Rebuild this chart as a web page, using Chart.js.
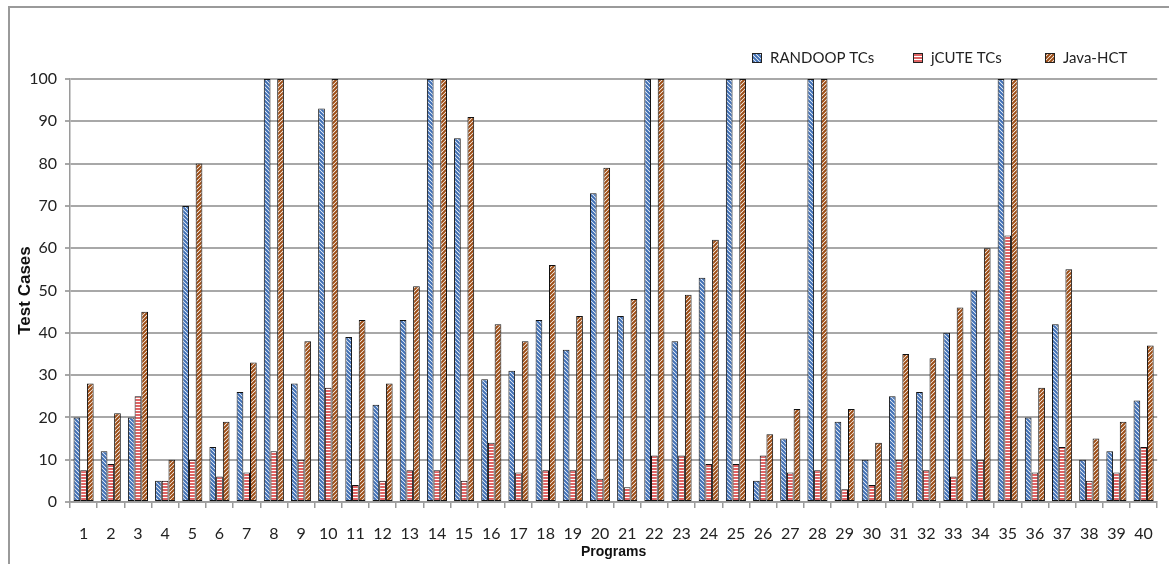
<!DOCTYPE html>
<html>
<head>
<meta charset="utf-8">
<script src="https://cdn.jsdelivr.net/npm/chart.js@4.4.1/dist/chart.umd.min.js"></script>
<style>
  html, body { margin: 0; padding: 0; background: #fff; }
  #wrap { width: 1169px; height: 564px; position: relative; }
</style>
</head>
<body>
<div id="wrap"><canvas id="tcChart"></canvas></div>
<script>
// ===== DATA =====
const programs = ['1','2','3','4','5','6','7','8','9','10',
  '11','12','13','14','15','16','17','18','19','20',
  '21','22','23','24','25','26','27','28','29','30',
  '31','32','33','34','35','36','37','38','39','40'];

const randoopTCs = [20, 12, 20, 5, 70, 13, 26, 100, 28, 93,
  39, 23, 43, 100, 86, 29, 31, 43, 36, 73,
  44, 100, 38, 53, 100, 5, 15, 100, 19, 10,
  25, 26, 40, 50, 100, 20, 42, 10, 12, 24];

const jcuteTCs = [7.5, 9, 25, 5, 10, 6, 7, 12, 10, 27,
  4, 5, 7.5, 7.5, 5, 14, 7, 7.5, 7.5, 5.5,
  3.5, 11, 11, 9, 9, 11, 7, 7.5, 3, 4,
  10, 7.5, 6, 10, 63, 7, 13, 5, 7, 13];

const javaHCT = [28, 21, 45, 10, 80, 19, 33, 100, 38, 100,
  43, 28, 51, 100, 91, 42, 38, 56, 44, 79,
  48, 100, 49, 62, 100, 16, 22, 100, 22, 14,
  35, 34, 46, 60, 100, 27, 55, 15, 19, 37];

const seriesNames = ['RANDOOP TCs', 'jCUTE TCs', 'Java-HCT'];
const yTicks = [0, 10, 20, 30, 40, 50, 60, 70, 80, 90, 100];

// ===== FILL PATTERNS =====
function stripePattern(kind, color) {
  const c = document.createElement('canvas');
  const size = 4;
  c.width = size; c.height = kind === 'horiz' ? 3 : size;
  const g = c.getContext('2d');
  g.fillStyle = '#fff';
  g.fillRect(0, 0, c.width, c.height);
  g.strokeStyle = color;
  g.fillStyle = color;
  g.lineWidth = 2;
  if (kind === 'horiz') {
    g.fillRect(0, 0, c.width, 2);
  } else if (kind === 'back') {
    // "\" stripes
    g.beginPath();
    g.moveTo(-1, -1); g.lineTo(size + 1, size + 1);
    g.moveTo(-1, size - 1); g.lineTo(1, size + 1);
    g.moveTo(size - 1, -1); g.lineTo(size + 1, 1);
    g.stroke();
  } else {
    // "/" stripes
    g.beginPath();
    g.moveTo(-1, size + 1); g.lineTo(size + 1, -1);
    g.moveTo(-1, 1); g.lineTo(1, -1);
    g.moveTo(size - 1, size + 1); g.lineTo(size + 1, size - 1);
    g.stroke();
  }
  return g.createPattern(c, 'repeat');
}

const fills = [
  stripePattern('back', '#3f6fb5'),
  stripePattern('horiz', '#df6464'),
  stripePattern('fwd', '#9c4c14')
];

// ===== PLUGINS =====
const frame = {
  id: 'frame',
  beforeDraw(chart) {
    const ctx = chart.ctx;
    ctx.save();
    ctx.strokeStyle = '#9a9a9a';
    ctx.lineWidth = 2;
    ctx.strokeRect(9, 7, 1300, 700);
    ctx.restore();
  }
};

// legend sits at fixed spots in the top-right corner
const legendSpots = [752, 913, 1045];
const topLegend = {
  id: 'topLegend',
  afterDraw(chart) {
    const ctx = chart.ctx;
    ctx.save();
    ctx.font = '15px Lato';
    ctx.textBaseline = 'middle';
    chart.data.datasets.forEach((ds, i) => {
      const x = legendSpots[i], y = 58;
      ctx.fillStyle = ds.backgroundColor;
      ctx.fillRect(x, y - 5, 10, 10);
      ctx.strokeStyle = '#222';
      ctx.lineWidth = 1;
      ctx.strokeRect(x + 0.5, y - 4.5, 9, 9);
      ctx.fillStyle = '#222';
      ctx.fillText(ds.label, x + 18, y);
    });
    ctx.restore();
  }
};

// ===== CHART =====
const datasets = [randoopTCs, jcuteTCs, javaHCT].map((vals, i) => ({
  label: seriesNames[i],
  data: vals,
  backgroundColor: fills[i],
  borderColor: '#111',
  borderWidth: 1,
  borderSkipped: false,
  categoryPercentage: 0.74,
  barPercentage: 1.0
}));

new Chart(document.getElementById('tcChart'), {
  type: 'bar',
  data: { labels: programs, datasets },
  plugins: [frame, topLegend],
  options: {
    responsive: true,
    maintainAspectRatio: false,
    animation: false,
    layout: { padding: { top: 79, right: 9, left: 0, bottom: 0 } },
    plugins: {
      legend: { display: false },
      tooltip: { enabled: false }
    },
    scales: {
      x: {
        offset: true,
        grid: {
          display: true,
          drawOnChartArea: false,
          drawTicks: true,
          tickLength: 6,
          color: '#9a9a9a',
          lineWidth: 1.5
        },
        border: { display: true, color: '#9a9a9a', width: 1.5 },
        ticks: {
          color: '#222',
          font: { family: 'Lato', size: 16 },
          padding: 16,
          maxRotation: 0,
          autoSkip: false
        },
        title: {
          display: true,
          text: 'Programs',
          color: '#111',
          font: { family: '"Liberation Sans", Arial', size: 14, weight: 'bold' },
          padding: { top: 0, bottom: 3 }
        },
        afterFit(scale) { scale.height = 62; }
      },
      y: {
        min: 0,
        max: 100,
        afterBuildTicks(scale) { scale.ticks = yTicks.map(v => ({ value: v })); },
        grid: {
          color: '#a8a8a8',
          lineWidth: 2,
          tickLength: 5
        },
        border: { display: true, color: '#9a9a9a', width: 1.5 },
        ticks: {
          color: '#222',
          font: { family: 'Lato', size: 16 },
          padding: 8
        },
        title: {
          display: true,
          text: 'Test Cases',
          color: '#111',
          font: { family: '"Liberation Sans", Arial', size: 17, weight: 'bold' },
          padding: { top: 15, bottom: 0 }
        },
        afterFit(scale) { scale.width = 70; }
      }
    }
  }
});
</script>
</body>
</html>
